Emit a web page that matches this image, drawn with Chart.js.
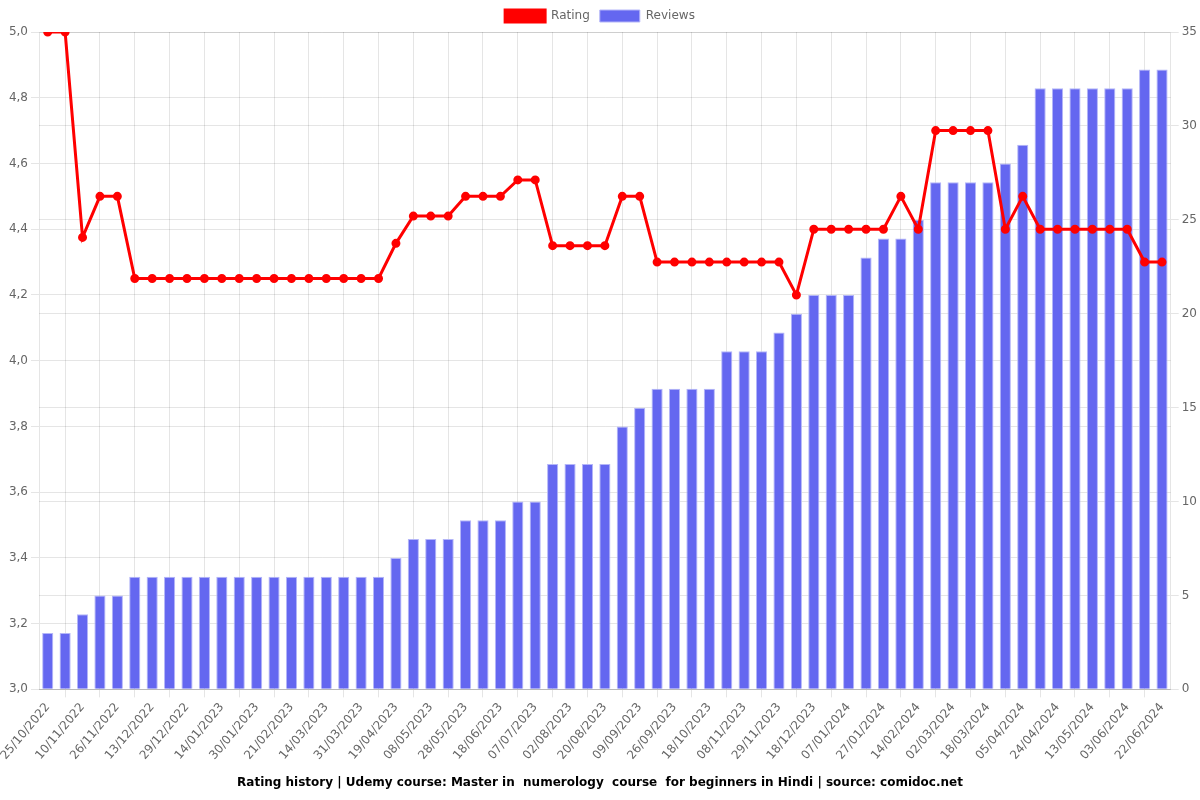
<!DOCTYPE html>
<html>
<head>
<meta charset="utf-8">
<title>Rating history</title>
<script src="https://cdn.jsdelivr.net/npm/chart.js@4.4.0/dist/chart.umd.min.js"></script>
<style>
  html, body { margin: 0; padding: 0; background: #fff; }
  #wrap { width: 1200px; height: 800px; }
</style>
</head>
<body>
<div id="wrap"><canvas id="myChart"></canvas></div>
<script>
var dates = [
    '25/10/2022', '02/11/2022', '10/11/2022', '18/11/2022', '26/11/2022', '04/12/2022',
    '13/12/2022', '21/12/2022', '29/12/2022', '06/01/2023', '14/01/2023', '22/01/2023',
    '30/01/2023', '10/02/2023', '21/02/2023', '03/03/2023', '14/03/2023', '22/03/2023',
    '31/03/2023', '09/04/2023', '19/04/2023', '28/04/2023', '08/05/2023', '18/05/2023',
    '28/05/2023', '07/06/2023', '18/06/2023', '27/06/2023', '07/07/2023', '20/07/2023',
    '02/08/2023', '11/08/2023', '20/08/2023', '30/08/2023', '09/09/2023', '17/09/2023',
    '26/09/2023', '07/10/2023', '18/10/2023', '28/10/2023', '08/11/2023', '18/11/2023',
    '29/11/2023', '08/12/2023', '18/12/2023', '28/12/2023', '07/01/2024', '17/01/2024',
    '27/01/2024', '05/02/2024', '14/02/2024', '22/02/2024', '02/03/2024', '10/03/2024',
    '18/03/2024', '27/03/2024', '05/04/2024', '14/04/2024', '24/04/2024', '03/05/2024',
    '13/05/2024', '23/05/2024', '03/06/2024', '12/06/2024', '22/06/2024'
];

var rating = [
    5.0, 5.0, 4.375, 4.5, 4.5,
    4.25, 4.25, 4.25, 4.25, 4.25, 4.25, 4.25, 4.25, 4.25, 4.25, 4.25, 4.25, 4.25, 4.25, 4.25,
    4.357, 4.44, 4.44, 4.44, 4.5, 4.5, 4.5, 4.55, 4.55,
    4.35, 4.35, 4.35, 4.35, 4.5, 4.5,
    4.3, 4.3, 4.3, 4.3, 4.3, 4.3, 4.3, 4.3, 4.2,
    4.4, 4.4, 4.4, 4.4, 4.4, 4.5, 4.4,
    4.7, 4.7, 4.7, 4.7, 4.4, 4.5,
    4.4, 4.4, 4.4, 4.4, 4.4, 4.4, 4.3, 4.3
];

var reviews = [
    3, 3, 4, 5, 5,
    6, 6, 6, 6, 6, 6, 6, 6, 6, 6, 6, 6, 6, 6, 6,
    7, 8, 8, 8, 9, 9, 9, 10, 10,
    12, 12, 12, 12, 14, 15,
    16, 16, 16, 16, 18, 18, 18, 19, 20,
    21, 21, 21, 23, 24, 24, 25,
    27, 27, 27, 27, 28, 29,
    32, 32, 32, 32, 32, 32, 33, 33
];

var titleText = 'Rating history | Udemy course: Master in  numerology  course  for beginners in Hindi | source: comidoc.net';

Chart.defaults.font.family = "'DejaVu Sans', sans-serif";
Chart.defaults.font.size = 12;

var ctx = document.getElementById('myChart');
var myChart = new Chart(ctx, {
    type: 'bar',
    data: {
        labels: dates,
        datasets: [{
            type: 'line',
            label: 'Rating',
            data: rating,
            yAxisID: 'y',
            borderColor: 'rgb(255,0,0)',
            backgroundColor: 'rgb(255,0,0)',
            pointBackgroundColor: 'rgb(255,0,0)',
            pointBorderColor: 'rgb(255,0,0)',
            borderWidth: 3,
            pointRadius: 3,
            tension: 0
        }, {
            type: 'bar',
            label: 'Reviews',
            data: reviews,
            yAxisID: 'y1',
            backgroundColor: 'rgb(100,103,240)',
            borderColor: 'rgba(180,182,248,1)',
            borderWidth: 1,
            barPercentage: 0.8,
            categoryPercentage: 0.8
        }]
    },
    options: {
        responsive: true,
        maintainAspectRatio: false,
        animation: false,
        plugins: {
            legend: {
                position: 'top'
            },
            title: {
                display: true,
                position: 'bottom',
                text: titleText,
                color: '#000',
                font: { size: 12, weight: 'bold' }
            }
        },
        scales: {
            x: {
                ticks: {
                    maxRotation: 50
                }
            },
            y: {
                position: 'left',
                min: 3,
                max: 5,
                ticks: {
                    stepSize: 0.2,
                    callback: function(v) {
                        return v.toFixed(1).replace('.', ',');
                    }
                }
            },
            y1: {
                position: 'right',
                min: 0,
                max: 35,
                ticks: {
                    stepSize: 5
                }
            }
        }
    }
});
</script>
</body>
</html>
